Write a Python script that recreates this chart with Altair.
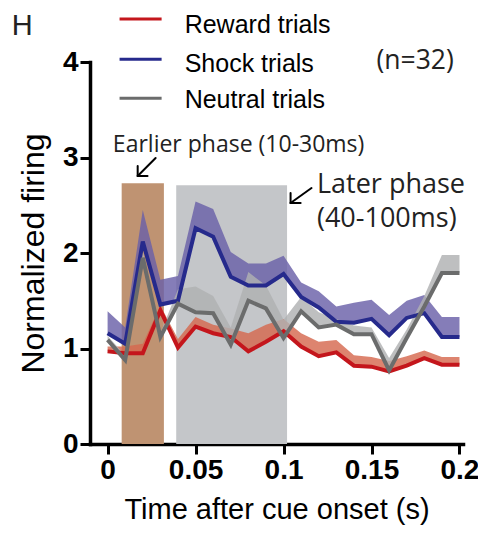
import altair as alt
import pandas as pd

# ---------------- data ----------------
time_s = [0.00, 0.01, 0.02, 0.03, 0.04, 0.05, 0.06, 0.07, 0.08, 0.09, 0.10,
          0.11, 0.12, 0.13, 0.14, 0.15, 0.16, 0.17, 0.18, 0.19, 0.20]

reward_mean = [0.97, 0.95, 0.95, 1.40, 1.01, 1.23, 1.16, 1.12, 0.97, 1.07, 1.18,
               1.02, 0.92, 0.96, 0.82, 0.81, 0.76, 0.82, 0.90, 0.83, 0.83]
reward_upper = [1.02, 1.02, 1.05, 1.45, 1.10, 1.33, 1.25, 1.21, 1.16, 1.25, 1.31,
                1.16, 1.07, 1.09, 0.93, 0.91, 0.87, 0.92, 0.98, 0.91, 0.91]

shock_mean = [1.16, 1.05, 2.12, 1.46, 1.50, 2.26, 2.17, 1.75, 1.66, 1.66, 1.78,
              1.54, 1.43, 1.28, 1.27, 1.31, 1.14, 1.32, 1.37, 1.12, 1.12]
shock_upper = [1.39, 1.22, 2.45, 1.72, 1.76, 2.54, 2.46, 2.01, 1.89, 1.89, 1.97,
               1.69, 1.60, 1.44, 1.48, 1.51, 1.35, 1.50, 1.56, 1.33, 1.33]

neutral_mean = [1.09, 0.88, 1.95, 1.12, 1.47, 1.38, 1.37, 1.04, 1.50, 1.42, 1.11,
                1.39, 1.22, 1.25, 1.15, 1.15, 0.77, 1.11, 1.44, 1.79, 1.79]
neutral_upper = [1.13, 0.93, 2.02, 1.16, 1.62, 1.65, 1.55, 1.22, 1.80, 1.66, 1.30,
                 1.54, 1.38, 1.31, 1.24, 1.22, 0.90, 1.20, 1.55, 1.98, 1.98]

series_names = ["Reward trials", "Shock trials", "Neutral trials"]
line_colors = ["#c4161c", "#262a8c", "#6b6c6c"]
band_colors = ["#d5694f", "#6a60a8", "#b0b1b2"]

phase_start = [0.008, 0.039]
phase_end = [0.032, 0.102]
phase_top = [2.73, 2.71]
phase_colors = ["#bf9372", "#c4c6c9"]

x_ticks = [0, 0.05, 0.1, 0.15, 0.2]
y_ticks = [0, 1, 2, 3, 4]

# ---------------- tables ----------------
means = [reward_mean, shock_mean, neutral_mean]
uppers = [reward_upper, shock_upper, neutral_upper]

x_scale = alt.Scale(domain=[-0.01, 0.202], nice=False, zero=False)
y_scale = alt.Scale(domain=[0, 4], nice=False, zero=True)

W, H = 373, 382

x_axis = alt.Axis(values=x_ticks, title="Time after cue onset (s)",
                  labelExpr="format(datum.value, '~g')",
                  labelFontSize=28, labelFontWeight="bold", labelFont="Liberation Sans",
                  labelColor="black", labelPadding=2,
                  titleFontSize=29, titleFontWeight="normal", titleFont="Liberation Sans",
                  titleColor="black", titlePadding=11,
                  domainWidth=3.5, domainColor="black", tickWidth=3, tickSize=10,
                  tickColor="black", grid=False, labelFlush=False)
y_axis = alt.Axis(values=y_ticks, title="Normalized firing", format="d",
                  labelFontSize=28, labelFontWeight="bold", labelFont="Liberation Sans",
                  labelColor="black", labelPadding=2,
                  titleFontSize=32, titleFontWeight="normal", titleFont="Liberation Sans",
                  titleColor="black", titlePadding=12,
                  domainWidth=3.5, domainColor="black", tickWidth=3, tickSize=10,
                  tickColor="black", grid=False, labelFlush=False)

phase_df = pd.DataFrame({"x0": phase_start, "x1": phase_end, "top": phase_top,
                         "color": phase_colors, "base": [0, 0]})

rects = alt.Chart(phase_df).mark_rect().encode(
    x=alt.X("x0:Q", scale=x_scale, axis=x_axis),
    x2="x1:Q",
    y=alt.Y("base:Q", scale=y_scale, axis=y_axis),
    y2="top:Q",
    color=alt.Color("color:N", scale=None),
)

layers = [rects]
for i in range(3):
    df = pd.DataFrame({"t": time_s, "mean": means[i], "upper": uppers[i]})
    band = alt.Chart(df).mark_area(color=band_colors[i], opacity=0.82).encode(
        x=alt.X("t:Q", scale=x_scale),
        y=alt.Y("mean:Q", scale=y_scale),
        y2="upper:Q",
    )
    layers.append(band)
for i in range(3):
    df = pd.DataFrame({"t": time_s, "mean": means[i]})
    line = alt.Chart(df).mark_line(color=line_colors[i], strokeWidth=4,
                                   strokeJoin="miter").encode(
        x=alt.X("t:Q", scale=x_scale),
        y=alt.Y("mean:Q", scale=y_scale),
    )
    layers.append(line)

# ---------------- legend (drawn in data units above the plot) ----------------
legend_line_x0 = [0.0068, 0.0068, 0.0068]
legend_line_x1 = [0.0307, 0.0307, 0.0307]
legend_line_y = [4.45, 4.03, 3.62]
legend_text_x = [0.0438, 0.0438, 0.0438]
legend_text_y = [4.30, 3.90, 3.52]

leg_df = pd.DataFrame({"x0": legend_line_x0, "x1": legend_line_x1, "y": legend_line_y,
                       "tx": legend_text_x, "ty": legend_text_y, "label": series_names,
                       "color": line_colors})
leg_lines = alt.Chart(leg_df).mark_rule(strokeWidth=3).encode(
    x=alt.X("x0:Q", scale=x_scale), x2="x1:Q",
    y=alt.Y("y:Q", scale=y_scale),
    color=alt.Color("color:N", scale=None),
)
leg_text = alt.Chart(leg_df).mark_text(align="left", baseline="alphabetic", fontSize=25,
                                       font="Liberation Sans", color="black").encode(
    x=alt.X("tx:Q", scale=x_scale), y=alt.Y("ty:Q", scale=y_scale), text="label:N",
)
layers += [leg_lines, leg_text]

# ---------------- other texts ----------------
note_text = ["(n=32)", "H", "Earlier phase (10-30ms)", "Later phase", "(40-100ms)"]
note_x = [0.1528, -0.0545, 0.0030, 0.1190, 0.1190]
note_y = [3.93, 4.28, 3.06, 2.63, 2.27]
note_size = [26.5, 29, 23, 27, 27]
note_font = ["Open Sans", "Liberation Sans", "Open Sans", "Open Sans", "Open Sans"]
for txt, nx, ny, ns, nf in zip(note_text, note_x, note_y, note_size, note_font):
    ndf = pd.DataFrame({"x": [nx], "y": [ny], "text": [txt]})
    layers.append(alt.Chart(ndf).mark_text(align="left", baseline="alphabetic", fontSize=ns,
                                           font=nf, color="#222222").encode(
        x=alt.X("x:Q", scale=x_scale), y=alt.Y("y:Q", scale=y_scale), text="text:N"))

# arrows: shaft and two head strokes, from tip outward
arrow_x0 = [0.0171, 0.0171, 0.0171, 0.1040, 0.1040, 0.1040]
arrow_y0 = [2.806, 2.806, 2.806, 2.524, 2.524, 2.524]
arrow_x1 = [0.0273, 0.0171, 0.0227, 0.1159, 0.1040, 0.1097]
arrow_y1 = [2.995, 2.911, 2.806, 2.681, 2.628, 2.524]
arr_df = pd.DataFrame({"x0": arrow_x0, "y0": arrow_y0, "x1": arrow_x1, "y1": arrow_y1})
arrows = alt.Chart(arr_df).mark_rule(strokeWidth=2, color="black", strokeCap="round").encode(
    x=alt.X("x0:Q", scale=x_scale), x2="x1:Q",
    y=alt.Y("y0:Q", scale=y_scale), y2="y1:Q",
)
layers.append(arrows)

chart = alt.layer(*layers).properties(
    width=W, height=H,
    autosize=alt.AutoSizeParams(type="none"),
    padding={"left": 90, "top": 62, "right": 15, "bottom": 91},
    background="white",
).configure_view(stroke=None).configure_axisY(domainCap="square").configure_axisX(domainCap="square")

chart.save("out.html", embed_options={"renderer": "svg", "actions": False})
